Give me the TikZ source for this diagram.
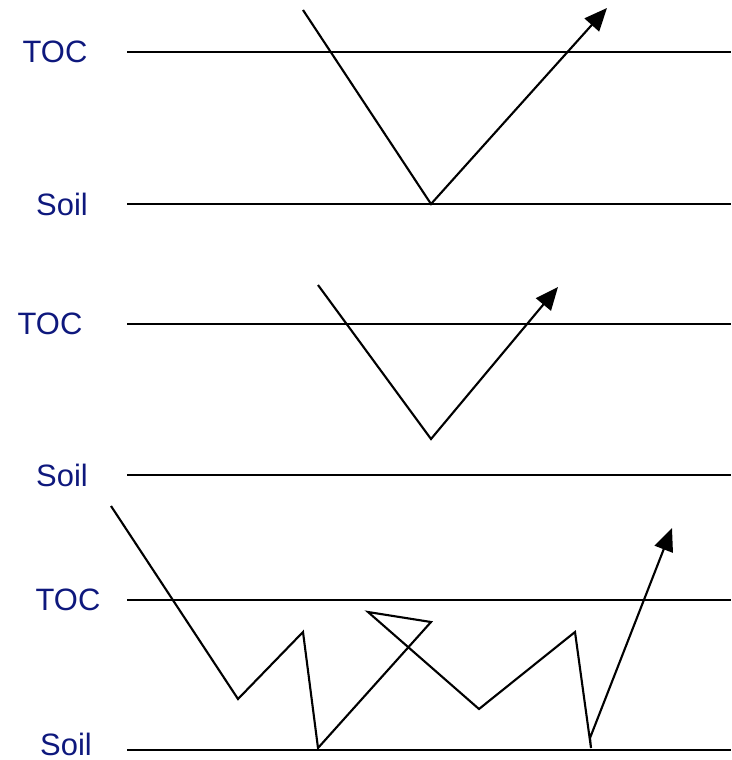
\documentclass[tikz,border=0pt]{standalone}
\usepackage{fontspec}
\setmainfont{Liberation Sans}
\usetikzlibrary{arrows.meta}
\definecolor{labelblue}{RGB}{14,24,125}

\begin{document}
\begin{tikzpicture}[x=0.02cm,y=-0.02cm,>={Triangle[length=13pt,width=11pt]},line width=1.2pt]
  \useasboundingbox (0,0) rectangle (731,760);
  \tikzset{lvl/.style={font=\fontsize{17.6}{20}\selectfont,text=labelblue,inner sep=0pt}}
  % top panel
  \node[lvl] (toc1) at (55,52) {TOC};
  \node[lvl] (soil1) at (62,204) {Soil};
  \draw (127,52) -- (731,52);
  \draw (127,204) -- (731,204);
  \draw[->] (303,10) -- (431,204) -- (607,8);
  % middle panel
  \node[lvl] (toc2) at (50,324) {TOC};
  \node[lvl] (soil2) at (62,475) {Soil};
  \draw (127,324) -- (731,324);
  \draw (127,475) -- (731,475);
  \draw[->] (318,285) -- (431,439) -- (558,287);
  % bottom panel
  \node[lvl] (toc3) at (68,600) {TOC};
  \node[lvl] (soil3) at (66,744) {Soil};
  \draw (127,600) -- (731,600);
  \draw (127,750) -- (731,750);
  \draw[->] (111,506) -- (238,699) -- (303,632) -- (318,748) -- (431,622) -- (368,612)
    -- (479,709) -- (575,632) -- (591,748) -- (590,738) -- (672,528);
\end{tikzpicture}
\end{document}
